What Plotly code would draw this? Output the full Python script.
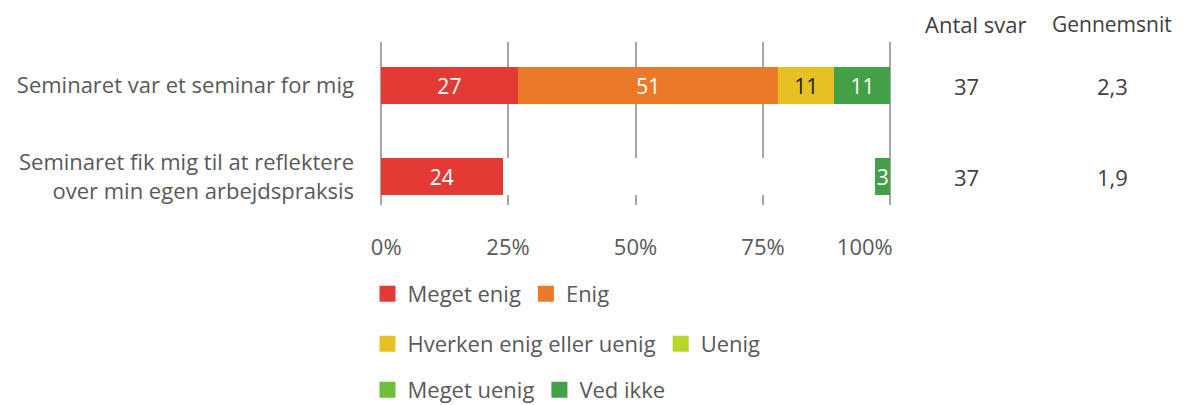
import plotly.graph_objects as go

categories = ["Seminaret var et seminar for mig",
              "Seminaret fik mig til at reflektere<br>over min egen arbejdspraksis"]
series_names = ["Meget enig", "Enig", "Hverken enig eller uenig", "Uenig", "Meget uenig", "Ved ikke"]
meget_enig = [27, 24]
enig = [51, 73]
hverken = [11, 0]
uenig = [0, 0]
meget_uenig = [0, 0]
ved_ikke = [11, 3]
antal_svar = ["37", "37"]
gennemsnit = ["2,3", "1,9"]
x_ticks = [0, 25, 50, 75, 100]
x_tick_labels = ["0%", "25%", "50%", "75%", "100%"]

colors = ["#E43A36", "#EB7A28", "#E6C123", "#B5D62A", "#6CBF37", "#43A047"]
# per-point colours (second row of 'Enig' is drawn white in the original)
point_colors = [
    [colors[0], colors[0]],
    [colors[1], "#FFFFFF"],
    [colors[2], colors[2]],
    [colors[3], colors[3]],
    [colors[4], colors[4]],
    [colors[5], colors[5]],
]
text_colors = [
    ["white", "white"],
    ["white", "white"],
    ["#222222", "#222222"],
    ["white", "white"],
    ["white", "white"],
    ["white", "white"],
]
legend_ids = ["legend", "legend", "legend2", "legend2", "legend3", "legend3"]

FONT = "Open Sans"
FS = 21
FL = 22
values = [meget_enig, enig, hverken, uenig, meget_uenig, ved_ikke]

fig = go.Figure()
for name, vals, pc, tc in zip(series_names, values, point_colors, text_colors):
    texts = [str(v) if v > 0 else "" for v in vals]
    fig.add_trace(go.Bar(
        y=categories, x=vals, name=name, orientation="h",
        marker=dict(color=pc, line=dict(width=0)),
        text=texts, textposition="inside", insidetextanchor="middle",
        textangle=0, constraintext="none",
        textfont=dict(color=tc, size=FS, family=FONT),
        showlegend=False, width=0.406,
    ))
# legend entries (square swatches) for each series
for name, col, lg in zip(series_names, colors, legend_ids):
    fig.add_trace(go.Scatter(
        x=[None], y=[None], mode="markers", name=name,
        marker=dict(symbol="square", size=18, color=col),
        legend=lg, showlegend=True, hoverinfo="skip",
    ))

OFF = 8  # page body offset
W, H = 1184 - OFF, 405 - OFF
X0, X100 = 381 - OFF, 890 - OFF
XMIN, XMAX = -0.3, 100.3
ppu = (X100 - X0) / 100.0
PLOT_L = X0 - (0 - XMIN) * ppu
PLOT_R = X100 + (XMAX - 100) * ppu
PLOT_T, PLOT_B = 42 - OFF, 205 - OFF
ph = PLOT_B - PLOT_T
pw = PLOT_R - PLOT_L


def ref_y(py):
    return (PLOT_B - (py - OFF)) / ph


def ref_x(px):
    return ((px - OFF) - PLOT_L) / pw


# tick labels: first/last nudged inward like the original
NB = "\u00a0"
tick_text = list(x_tick_labels)
tick_text[0] = NB * 2 + tick_text[0]
tick_text[-1] = tick_text[-1] + NB * 9

leg_common = dict(orientation="h", xanchor="left", yanchor="middle",
                  font=dict(size=FL, color="#595959", family=FONT),
                  bgcolor="rgba(0,0,0,0)", traceorder="normal", itemclick=False)

fig.update_layout(
    width=W, height=H,
    margin=dict(l=PLOT_L, r=W - PLOT_R, t=PLOT_T, b=H - PLOT_B, pad=0, autoexpand=False),
    barmode="stack",
    plot_bgcolor="white", paper_bgcolor="white",
    font=dict(family=FONT, size=FS, color="#595959"),
    uniformtext=dict(minsize=FS, mode="show"),
    xaxis=dict(range=[XMIN, XMAX], tickvals=x_ticks, ticktext=tick_text,
               showgrid=True, gridcolor="#A6A6A6", gridwidth=2,
               zeroline=False, showline=False, fixedrange=True,
               tickfont=dict(size=FL, color="#595959"), ticks="", ticklabelstandoff=27),
    yaxis=dict(range=[1.31, -0.48], showgrid=False, zeroline=False, showline=False,
               tickfont=dict(size=FL, color="#595959"), ticks="", ticklabelstandoff=24,
               fixedrange=True),
    legend=dict(x=ref_x(368), y=ref_y(294), **leg_common),
    legend2=dict(x=ref_x(368), y=ref_y(344), **leg_common),
    legend3=dict(x=ref_x(368), y=ref_y(390), **leg_common),
    showlegend=True,
)

ann_font = dict(size=FL, color="#404040", family=FONT)
head_font = dict(size=FS, color="#404040", family=FONT)
head_y = ref_y(24)
fig.add_annotation(text="Antal svar", x=ref_x(975), y=head_y, xref="paper", yref="paper",
                   showarrow=False, font=ann_font, xanchor="center", yanchor="middle")
fig.add_annotation(text="Gennemsnit", x=ref_x(1111), y=head_y, xref="paper", yref="paper",
                   showarrow=False, font=head_font, xanchor="center", yanchor="middle")
for cat, a, g in zip(categories, antal_svar, gennemsnit):
    fig.add_annotation(text=a, x=ref_x(966), y=cat, xref="paper", yref="y", showarrow=False,
                       font=ann_font, xanchor="center", yanchor="middle")
    fig.add_annotation(text=g, x=ref_x(1112), y=cat, xref="paper", yref="y", showarrow=False,
                       font=ann_font, xanchor="center", yanchor="middle")

fig.write_html("out.html")
